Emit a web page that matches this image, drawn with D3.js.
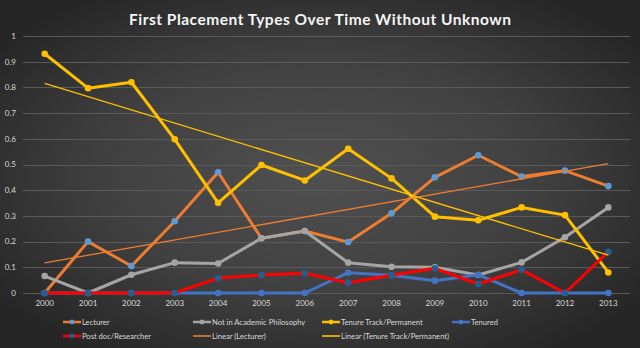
<!DOCTYPE html>
<html>
<head>
<meta charset="utf-8">
<script src="https://cdn.jsdelivr.net/npm/d3@7"></script>
<style>
  html, body { margin: 0; padding: 0; background: #2a2a2a; }
  svg { display: block; }
</style>
</head>
<body>
<svg id="chart" width="640" height="348"></svg>
<script>
// Placement shares by first-placement type, 2000–2013
const years = ["2000","2001","2002","2003","2004","2005","2006","2007","2008","2009","2010","2011","2012","2013"];
const lecturer      = [0, 0.2, 0.105, 0.279, 0.47, 0.213, 0.241, 0.198, 0.31, 0.45, 0.536, 0.453, 0.476, 0.416];
const notAcademic   = [0.066, 0, 0.071, 0.118, 0.115, 0.213, 0.241, 0.118, 0.102, 0.1, 0.07, 0.119, 0.217, 0.333];
const tenureTrack   = [0.931, 0.797, 0.82, 0.598, 0.351, 0.498, 0.438, 0.561, 0.446, 0.297, 0.283, 0.333, 0.303, 0.08];
const tenured       = [0, 0, 0, 0, 0, 0, 0, 0.079, 0.069, 0.048, 0.071, 0, 0, 0];
const postdoc       = [0, 0, 0, 0, 0.058, 0.07, 0.077, 0.04, 0.069, 0.096, 0.035, 0.09, 0, 0.16];
const yTicks        = [0, 0.1, 0.2, 0.3, 0.4, 0.5, 0.6, 0.7, 0.8, 0.9, 1];
const yTickLabels   = ["0", "0.1", "0.2", "0.3", "0.4", "0.5", "0.6", "0.7", "0.8", "0.9", "1"];

const title = "First Placement Types Over Time Without Unknown";

const series = [
  { name: "Lecturer", values: lecturer, line: "#ed7d31", marker: "#5b9bd5" },
  { name: "Not in Academic Philosophy", values: notAcademic, line: "#a5a5a5", marker: "#a5a5a5" },
  { name: "Tenure Track/Permanent", values: tenureTrack, line: "#ffc000", marker: "#ffc000" },
  { name: "Tenured", values: tenured, line: "#4472c4", marker: "#4472c4" },
  { name: "Post doc/Researcher", values: postdoc, line: "#ff0000", marker: "#255e91" }
];

// Least-squares trend over the year index
function linearFit(vals) {
  const n = vals.length;
  const mx = d3.mean(vals, (d, i) => i);
  const my = d3.mean(vals);
  let sxy = 0, sxx = 0;
  vals.forEach((v, i) => { sxy += (i - mx) * (v - my); sxx += (i - mx) * (i - mx); });
  const b = sxy / sxx, a = my - b * mx;
  return [{ i: 0, v: a }, { i: n - 1, v: a + b * (n - 1) }];
}
const trends = [
  { name: "Linear (Lecturer)", pts: linearFit(lecturer), color: "#ed7d31" },
  { name: "Linear (Tenure Track/Permanent)", pts: linearFit(tenureTrack), color: "#ffc000" }
];

const W = 640, H = 348;
const svg = d3.select("#chart");
const font = "Lato, 'Open Sans', sans-serif";

// Background: soft radial glow
const defs = svg.append("defs");
const grad = defs.append("radialGradient").attr("id", "bg")
  .attr("cx", "50%").attr("cy", "50%").attr("r", "62%");
grad.append("stop").attr("offset", "0%").attr("stop-color", "#505050");
grad.append("stop").attr("offset", "55%").attr("stop-color", "#404040");
grad.append("stop").attr("offset", "100%").attr("stop-color", "#262626");
svg.append("rect").attr("width", W).attr("height", H).attr("fill", "url(#bg)");

const x = d3.scaleBand().domain(years).range([23, 630]).padding(0);
const xc = i => x(years[i]) + x.bandwidth() / 2;
const y = d3.scaleLinear().domain([0, 1]).range([293, 36]);

// Gridlines
svg.append("g").selectAll("line").data(yTicks).join("line")
  .attr("x1", 23).attr("x2", 630)
  .attr("y1", d => Math.round(y(d)) + 0.5).attr("y2", d => Math.round(y(d)) + 0.5)
  .attr("stroke", "#5a5a5a").attr("stroke-width", 1);

// Y-axis labels
svg.append("g").selectAll("text").data(yTicks).join("text")
  .attr("x", 16).attr("y", d => y(d)).attr("dy", "0.35em")
  .attr("text-anchor", "end")
  .attr("font-family", font).attr("font-size", 8).attr("fill", "#d9d9d9")
  .text((d, i) => yTickLabels[i]);

// X-axis labels
svg.append("g").selectAll("text").data(years).join("text")
  .attr("x", d => x(d) + x.bandwidth() / 2).attr("y", 303).attr("dy", "0.35em")
  .attr("text-anchor", "middle")
  .attr("font-family", font).attr("font-size", 8).attr("fill", "#d9d9d9")
  .text(d => d);

// Series lines and markers
const line = d3.line().x((d, i) => xc(i)).y(d => y(d));
series.forEach(s => {
  const g = svg.append("g");
  g.append("path").attr("d", line(s.values))
    .attr("fill", "none").attr("stroke", s.line).attr("stroke-width", 3)
    .attr("stroke-linejoin", "round").attr("stroke-linecap", "round");
  g.selectAll("circle").data(s.values).join("circle")
    .attr("cx", (d, i) => xc(i)).attr("cy", d => y(d)).attr("r", 3.3)
    .attr("fill", s.marker);
});

// Trendlines
trends.forEach(t => {
  svg.append("line")
    .attr("x1", xc(t.pts[0].i)).attr("y1", y(t.pts[0].v))
    .attr("x2", xc(t.pts[1].i)).attr("y2", y(t.pts[1].v))
    .attr("stroke", t.color).attr("stroke-width", 1.3);
});

// Title
svg.append("text")
  .attr("x", 320).attr("y", 20).attr("dy", "0.35em")
  .attr("text-anchor", "middle")
  .attr("font-family", font).attr("font-weight", "bold").attr("font-size", 15.5)
  .attr("fill", "#f5f5f5")
  .attr("textLength", 382).attr("lengthAdjust", "spacing")
  .text(title);

// Legend
const legendItems = [
  { label: series[0].name, color: series[0].line, marker: series[0].marker, col: 0, row: 0 },
  { label: series[1].name, color: series[1].line, marker: series[1].marker, col: 1, row: 0 },
  { label: series[2].name, color: series[2].line, marker: series[2].marker, col: 2, row: 0 },
  { label: series[3].name, color: series[3].line, marker: series[3].marker, col: 3, row: 0 },
  { label: series[4].name, color: series[4].line, marker: series[4].marker, col: 0, row: 1 },
  { label: trends[0].name, color: trends[0].color, marker: null, col: 1, row: 1 },
  { label: trends[1].name, color: trends[1].color, marker: null, col: 2, row: 1 }
];
const colX = [63, 193, 322, 452];
const rowY = [322, 336];
const lg = svg.append("g");
legendItems.forEach(it => {
  const gx = colX[it.col], gy = rowY[it.row];
  const g = lg.append("g");
  g.append("line").attr("x1", gx).attr("x2", gx + 18).attr("y1", gy).attr("y2", gy)
    .attr("stroke", it.color).attr("stroke-width", it.marker ? 2.5 : 1.6);
  if (it.marker) {
    g.append("circle").attr("cx", gx + 9).attr("cy", gy).attr("r", 2.4).attr("fill", it.marker);
  }
  g.append("text").attr("x", gx + 19).attr("y", gy).attr("dy", "0.35em")
    .attr("font-family", font).attr("font-size", 7.6).attr("fill", "#d9d9d9")
    .text(it.label);
});
</script>
</body>
</html>
